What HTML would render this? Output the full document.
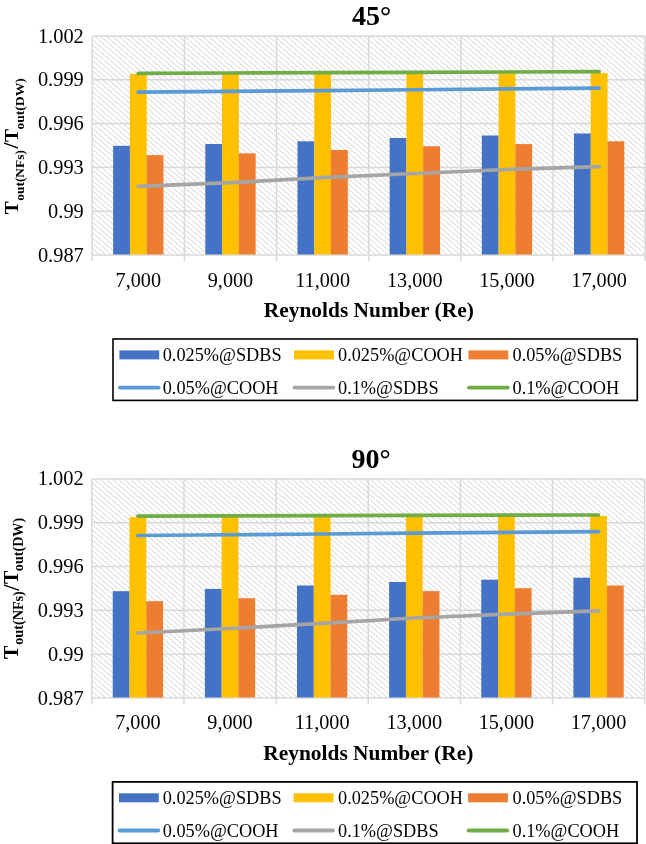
<!DOCTYPE html>
<html lang="en">
<head>
<meta charset="utf-8">
<title>Outlet temperature ratio charts</title>
<style>
html,body{margin:0;padding:0;background:#fff;}
body{width:646px;height:844px;overflow:hidden;}
svg{display:block;font-family:"Liberation Serif",serif;fill:#000;}
</style>
</head>
<body>
<svg width="646" height="844" viewBox="0 0 646 844">
<rect width="646" height="844" fill="#fff"/>
<clipPath id="cp1"><rect x="92.20" y="36.00" width="553.00" height="219.00"/></clipPath>
<g clip-path="url(#cp1)" fill="none"><path d="M-157.80 36.00l251.93 219.00M-151.80 36.00l251.93 219.00M-145.80 36.00l251.93 219.00M-139.80 36.00l251.93 219.00M-133.80 36.00l251.93 219.00M-127.80 36.00l251.93 219.00M-121.80 36.00l251.93 219.00M-115.80 36.00l251.93 219.00M-109.80 36.00l251.93 219.00M-103.80 36.00l251.93 219.00M-97.80 36.00l251.93 219.00M-91.80 36.00l251.93 219.00M-85.80 36.00l251.93 219.00M-79.80 36.00l251.93 219.00M-73.80 36.00l251.93 219.00M-67.80 36.00l251.93 219.00M-61.80 36.00l251.93 219.00M-55.80 36.00l251.93 219.00M-49.80 36.00l251.93 219.00M-43.80 36.00l251.93 219.00M-37.80 36.00l251.93 219.00M-31.80 36.00l251.93 219.00M-25.80 36.00l251.93 219.00M-19.80 36.00l251.93 219.00M-13.80 36.00l251.93 219.00M-7.80 36.00l251.93 219.00M-1.80 36.00l251.93 219.00M4.20 36.00l251.93 219.00M10.20 36.00l251.93 219.00M16.20 36.00l251.93 219.00M22.20 36.00l251.93 219.00M28.20 36.00l251.93 219.00M34.20 36.00l251.93 219.00M40.20 36.00l251.93 219.00M46.20 36.00l251.93 219.00M52.20 36.00l251.93 219.00M58.20 36.00l251.93 219.00M64.20 36.00l251.93 219.00M70.20 36.00l251.93 219.00M76.20 36.00l251.93 219.00M82.20 36.00l251.93 219.00M88.20 36.00l251.93 219.00M94.20 36.00l251.93 219.00M100.20 36.00l251.93 219.00M106.20 36.00l251.93 219.00M112.20 36.00l251.93 219.00M118.20 36.00l251.93 219.00M124.20 36.00l251.93 219.00M130.20 36.00l251.93 219.00M136.20 36.00l251.93 219.00M142.20 36.00l251.93 219.00M148.20 36.00l251.93 219.00M154.20 36.00l251.93 219.00M160.20 36.00l251.93 219.00M166.20 36.00l251.93 219.00M172.20 36.00l251.93 219.00M178.20 36.00l251.93 219.00M184.20 36.00l251.93 219.00M190.20 36.00l251.93 219.00M196.20 36.00l251.93 219.00M202.20 36.00l251.93 219.00M208.20 36.00l251.93 219.00M214.20 36.00l251.93 219.00M220.20 36.00l251.93 219.00M226.20 36.00l251.93 219.00M232.20 36.00l251.93 219.00M238.20 36.00l251.93 219.00M244.20 36.00l251.93 219.00M250.20 36.00l251.93 219.00M256.20 36.00l251.93 219.00M262.20 36.00l251.93 219.00M268.20 36.00l251.93 219.00M274.20 36.00l251.93 219.00M280.20 36.00l251.93 219.00M286.20 36.00l251.93 219.00M292.20 36.00l251.93 219.00M298.20 36.00l251.93 219.00M304.20 36.00l251.93 219.00M310.20 36.00l251.93 219.00M316.20 36.00l251.93 219.00M322.20 36.00l251.93 219.00M328.20 36.00l251.93 219.00M334.20 36.00l251.93 219.00M340.20 36.00l251.93 219.00M346.20 36.00l251.93 219.00M352.20 36.00l251.93 219.00M358.20 36.00l251.93 219.00M364.20 36.00l251.93 219.00M370.20 36.00l251.93 219.00M376.20 36.00l251.93 219.00M382.20 36.00l251.93 219.00M388.20 36.00l251.93 219.00M394.20 36.00l251.93 219.00M400.20 36.00l251.93 219.00M406.20 36.00l251.93 219.00M412.20 36.00l251.93 219.00M418.20 36.00l251.93 219.00M424.20 36.00l251.93 219.00M430.20 36.00l251.93 219.00M436.20 36.00l251.93 219.00M442.20 36.00l251.93 219.00M448.20 36.00l251.93 219.00M454.20 36.00l251.93 219.00M460.20 36.00l251.93 219.00M466.20 36.00l251.93 219.00M472.20 36.00l251.93 219.00M478.20 36.00l251.93 219.00M484.20 36.00l251.93 219.00M490.20 36.00l251.93 219.00M496.20 36.00l251.93 219.00M502.20 36.00l251.93 219.00M508.20 36.00l251.93 219.00M514.20 36.00l251.93 219.00M520.20 36.00l251.93 219.00M526.20 36.00l251.93 219.00M532.20 36.00l251.93 219.00M538.20 36.00l251.93 219.00M544.20 36.00l251.93 219.00M550.20 36.00l251.93 219.00M556.20 36.00l251.93 219.00M562.20 36.00l251.93 219.00M568.20 36.00l251.93 219.00M574.20 36.00l251.93 219.00M580.20 36.00l251.93 219.00M586.20 36.00l251.93 219.00M592.20 36.00l251.93 219.00M598.20 36.00l251.93 219.00M604.20 36.00l251.93 219.00M610.20 36.00l251.93 219.00M616.20 36.00l251.93 219.00M622.20 36.00l251.93 219.00M628.20 36.00l251.93 219.00M634.20 36.00l251.93 219.00M640.20 36.00l251.93 219.00M646.20 36.00l251.93 219.00" stroke="#E6E6E6" stroke-width="0.8"/><path d="M-157.80 36.00l251.93 219.00M-151.80 36.00l251.93 219.00M-145.80 36.00l251.93 219.00M-139.80 36.00l251.93 219.00M-133.80 36.00l251.93 219.00M-127.80 36.00l251.93 219.00M-121.80 36.00l251.93 219.00M-115.80 36.00l251.93 219.00M-109.80 36.00l251.93 219.00M-103.80 36.00l251.93 219.00M-97.80 36.00l251.93 219.00M-91.80 36.00l251.93 219.00M-85.80 36.00l251.93 219.00M-79.80 36.00l251.93 219.00M-73.80 36.00l251.93 219.00M-67.80 36.00l251.93 219.00M-61.80 36.00l251.93 219.00M-55.80 36.00l251.93 219.00M-49.80 36.00l251.93 219.00M-43.80 36.00l251.93 219.00M-37.80 36.00l251.93 219.00M-31.80 36.00l251.93 219.00M-25.80 36.00l251.93 219.00M-19.80 36.00l251.93 219.00M-13.80 36.00l251.93 219.00M-7.80 36.00l251.93 219.00M-1.80 36.00l251.93 219.00M4.20 36.00l251.93 219.00M10.20 36.00l251.93 219.00M16.20 36.00l251.93 219.00M22.20 36.00l251.93 219.00M28.20 36.00l251.93 219.00M34.20 36.00l251.93 219.00M40.20 36.00l251.93 219.00M46.20 36.00l251.93 219.00M52.20 36.00l251.93 219.00M58.20 36.00l251.93 219.00M64.20 36.00l251.93 219.00M70.20 36.00l251.93 219.00M76.20 36.00l251.93 219.00M82.20 36.00l251.93 219.00M88.20 36.00l251.93 219.00M94.20 36.00l251.93 219.00M100.20 36.00l251.93 219.00M106.20 36.00l251.93 219.00M112.20 36.00l251.93 219.00M118.20 36.00l251.93 219.00M124.20 36.00l251.93 219.00M130.20 36.00l251.93 219.00M136.20 36.00l251.93 219.00M142.20 36.00l251.93 219.00M148.20 36.00l251.93 219.00M154.20 36.00l251.93 219.00M160.20 36.00l251.93 219.00M166.20 36.00l251.93 219.00M172.20 36.00l251.93 219.00M178.20 36.00l251.93 219.00M184.20 36.00l251.93 219.00M190.20 36.00l251.93 219.00M196.20 36.00l251.93 219.00M202.20 36.00l251.93 219.00M208.20 36.00l251.93 219.00M214.20 36.00l251.93 219.00M220.20 36.00l251.93 219.00M226.20 36.00l251.93 219.00M232.20 36.00l251.93 219.00M238.20 36.00l251.93 219.00M244.20 36.00l251.93 219.00M250.20 36.00l251.93 219.00M256.20 36.00l251.93 219.00M262.20 36.00l251.93 219.00M268.20 36.00l251.93 219.00M274.20 36.00l251.93 219.00M280.20 36.00l251.93 219.00M286.20 36.00l251.93 219.00M292.20 36.00l251.93 219.00M298.20 36.00l251.93 219.00M304.20 36.00l251.93 219.00M310.20 36.00l251.93 219.00M316.20 36.00l251.93 219.00M322.20 36.00l251.93 219.00M328.20 36.00l251.93 219.00M334.20 36.00l251.93 219.00M340.20 36.00l251.93 219.00M346.20 36.00l251.93 219.00M352.20 36.00l251.93 219.00M358.20 36.00l251.93 219.00M364.20 36.00l251.93 219.00M370.20 36.00l251.93 219.00M376.20 36.00l251.93 219.00M382.20 36.00l251.93 219.00M388.20 36.00l251.93 219.00M394.20 36.00l251.93 219.00M400.20 36.00l251.93 219.00M406.20 36.00l251.93 219.00M412.20 36.00l251.93 219.00M418.20 36.00l251.93 219.00M424.20 36.00l251.93 219.00M430.20 36.00l251.93 219.00M436.20 36.00l251.93 219.00M442.20 36.00l251.93 219.00M448.20 36.00l251.93 219.00M454.20 36.00l251.93 219.00M460.20 36.00l251.93 219.00M466.20 36.00l251.93 219.00M472.20 36.00l251.93 219.00M478.20 36.00l251.93 219.00M484.20 36.00l251.93 219.00M490.20 36.00l251.93 219.00M496.20 36.00l251.93 219.00M502.20 36.00l251.93 219.00M508.20 36.00l251.93 219.00M514.20 36.00l251.93 219.00M520.20 36.00l251.93 219.00M526.20 36.00l251.93 219.00M532.20 36.00l251.93 219.00M538.20 36.00l251.93 219.00M544.20 36.00l251.93 219.00M550.20 36.00l251.93 219.00M556.20 36.00l251.93 219.00M562.20 36.00l251.93 219.00M568.20 36.00l251.93 219.00M574.20 36.00l251.93 219.00M580.20 36.00l251.93 219.00M586.20 36.00l251.93 219.00M592.20 36.00l251.93 219.00M598.20 36.00l251.93 219.00M604.20 36.00l251.93 219.00M610.20 36.00l251.93 219.00M616.20 36.00l251.93 219.00M622.20 36.00l251.93 219.00M628.20 36.00l251.93 219.00M634.20 36.00l251.93 219.00M640.20 36.00l251.93 219.00M646.20 36.00l251.93 219.00" stroke="#C2C2C2" stroke-width="0.9" stroke-dasharray="1.3 1.16"/></g>
<line x1="92.20" y1="36.00" x2="645.20" y2="36.00" stroke="#D9D9D9" stroke-width="1.5"/>
<line x1="92.20" y1="79.80" x2="645.20" y2="79.80" stroke="#D9D9D9" stroke-width="1.5"/>
<line x1="92.20" y1="123.60" x2="645.20" y2="123.60" stroke="#D9D9D9" stroke-width="1.5"/>
<line x1="92.20" y1="167.40" x2="645.20" y2="167.40" stroke="#D9D9D9" stroke-width="1.5"/>
<line x1="92.20" y1="211.20" x2="645.20" y2="211.20" stroke="#D9D9D9" stroke-width="1.5"/>
<line x1="92.20" y1="255.00" x2="645.20" y2="255.00" stroke="#D9D9D9" stroke-width="1.5"/>
<line x1="92.20" y1="36.00" x2="92.20" y2="261.30" stroke="#D9D9D9" stroke-width="1.5"/>
<line x1="184.37" y1="36.00" x2="184.37" y2="261.30" stroke="#D9D9D9" stroke-width="1.5"/>
<line x1="276.53" y1="36.00" x2="276.53" y2="261.30" stroke="#D9D9D9" stroke-width="1.5"/>
<line x1="368.70" y1="36.00" x2="368.70" y2="261.30" stroke="#D9D9D9" stroke-width="1.5"/>
<line x1="460.87" y1="36.00" x2="460.87" y2="261.30" stroke="#D9D9D9" stroke-width="1.5"/>
<line x1="553.03" y1="36.00" x2="553.03" y2="261.30" stroke="#D9D9D9" stroke-width="1.5"/>
<line x1="645.20" y1="36.00" x2="645.20" y2="261.30" stroke="#D9D9D9" stroke-width="1.5"/>
<rect x="113.15" y="145.80" width="16.81" height="108.70" fill="#4472C4"/>
<rect x="129.90" y="73.90" width="16.81" height="180.60" fill="#FFC000"/>
<rect x="146.66" y="155.10" width="16.81" height="99.40" fill="#ED7D31"/>
<rect x="205.31" y="144.00" width="16.81" height="110.50" fill="#4472C4"/>
<rect x="222.07" y="73.74" width="16.81" height="180.76" fill="#FFC000"/>
<rect x="238.83" y="153.30" width="16.81" height="101.20" fill="#ED7D31"/>
<rect x="297.48" y="141.30" width="16.81" height="113.20" fill="#4472C4"/>
<rect x="314.24" y="73.58" width="16.81" height="180.92" fill="#FFC000"/>
<rect x="331.00" y="150.00" width="16.81" height="104.50" fill="#ED7D31"/>
<rect x="389.65" y="138.00" width="16.81" height="116.50" fill="#4472C4"/>
<rect x="406.40" y="73.42" width="16.81" height="181.08" fill="#FFC000"/>
<rect x="423.16" y="146.30" width="16.81" height="108.20" fill="#ED7D31"/>
<rect x="481.81" y="135.50" width="16.81" height="119.00" fill="#4472C4"/>
<rect x="498.57" y="73.26" width="16.81" height="181.24" fill="#FFC000"/>
<rect x="515.33" y="144.10" width="16.81" height="110.40" fill="#ED7D31"/>
<rect x="573.98" y="133.50" width="16.81" height="121.00" fill="#4472C4"/>
<rect x="590.74" y="73.10" width="16.81" height="181.40" fill="#FFC000"/>
<rect x="607.50" y="141.30" width="16.81" height="113.20" fill="#ED7D31"/>
<polyline points="138.28,92.20 230.45,91.38 322.62,90.56 414.78,89.74 506.95,88.92 599.12,88.10" fill="none" stroke="#5B9BD5" stroke-width="3.7" stroke-linecap="round" stroke-linejoin="round"/>
<polyline points="138.28,186.30 230.45,182.70 322.62,177.70 414.78,173.50 506.95,169.50 599.12,166.70" fill="none" stroke="#A5A5A5" stroke-width="3.7" stroke-linecap="round" stroke-linejoin="round"/>
<polyline points="138.28,73.30 230.45,72.98 322.62,72.66 414.78,72.34 506.95,72.02 599.12,71.70" fill="none" stroke="#70AD47" stroke-width="3.7" stroke-linecap="round" stroke-linejoin="round"/>
<text x="371.70" y="24.80" text-anchor="middle" font-size="28" font-weight="bold">45°</text>
<text x="83.80" y="42.60" text-anchor="end" font-size="20.4">1.002</text>
<text x="83.80" y="86.40" text-anchor="end" font-size="20.4">0.999</text>
<text x="83.80" y="130.20" text-anchor="end" font-size="20.4">0.996</text>
<text x="83.80" y="174.00" text-anchor="end" font-size="20.4">0.993</text>
<text x="83.80" y="217.80" text-anchor="end" font-size="20.4">0.99</text>
<text x="83.80" y="261.60" text-anchor="end" font-size="20.4">0.987</text>
<text x="138.28" y="286.50" text-anchor="middle" font-size="20.2">7,000</text>
<text x="230.45" y="286.50" text-anchor="middle" font-size="20.2">9,000</text>
<text x="322.62" y="286.50" text-anchor="middle" font-size="20.2">11,000</text>
<text x="414.78" y="286.50" text-anchor="middle" font-size="20.2">13,000</text>
<text x="506.95" y="286.50" text-anchor="middle" font-size="20.2">15,000</text>
<text x="599.12" y="286.50" text-anchor="middle" font-size="20.2">17,000</text>
<text x="368.80" y="316.50" text-anchor="middle" font-size="21.4" font-weight="bold">Reynolds Number (Re)</text>
<g transform="translate(18.0,214.30) rotate(-90) scale(1.0)" font-weight="bold"><text x="0" y="0" font-size="19.4">T</text><text x="13.6" y="5.5" font-size="13.4" textLength="50.6" lengthAdjust="spacingAndGlyphs">out(NFs)</text><text x="65.9" y="0.4" font-size="21.5">/</text><text x="72.2" y="0" font-size="19.4">T</text><text x="84.7" y="5.5" font-size="13.4" textLength="51.5" lengthAdjust="spacingAndGlyphs">out(DW)</text></g>
<rect x="113.0" y="339.00" width="524.30" height="61.40" fill="#fff" stroke="#000" stroke-width="1.6"/>
<rect x="119.40" y="350.40" width="39.8" height="9" fill="#4472C4"/>
<text x="162.70" y="360.60" font-size="18.3">0.025%@SDBS</text>
<rect x="294.10" y="350.40" width="39.8" height="9" fill="#FFC000"/>
<text x="338.00" y="360.60" font-size="18.3">0.025%@COOH</text>
<rect x="468.50" y="350.40" width="39.8" height="9" fill="#ED7D31"/>
<text x="512.50" y="360.60" font-size="18.3">0.05%@SDBS</text>
<line x1="119.90" y1="387.60" x2="158.60" y2="387.60" stroke="#5B9BD5" stroke-width="3.8" stroke-linecap="round"/>
<text x="162.70" y="393.60" font-size="18.3">0.05%@COOH</text>
<line x1="294.60" y1="387.60" x2="333.30" y2="387.60" stroke="#A5A5A5" stroke-width="3.8" stroke-linecap="round"/>
<text x="338.00" y="393.60" font-size="18.3">0.1%@SDBS</text>
<line x1="469.00" y1="387.60" x2="507.70" y2="387.60" stroke="#70AD47" stroke-width="3.8" stroke-linecap="round"/>
<text x="512.50" y="393.60" font-size="18.3">0.1%@COOH</text>
<clipPath id="cp2"><rect x="91.80" y="478.90" width="552.80" height="219.10"/></clipPath>
<g clip-path="url(#cp2)" fill="none"><path d="M-164.20 478.90l252.05 219.10M-158.20 478.90l252.05 219.10M-152.20 478.90l252.05 219.10M-146.20 478.90l252.05 219.10M-140.20 478.90l252.05 219.10M-134.20 478.90l252.05 219.10M-128.20 478.90l252.05 219.10M-122.20 478.90l252.05 219.10M-116.20 478.90l252.05 219.10M-110.20 478.90l252.05 219.10M-104.20 478.90l252.05 219.10M-98.20 478.90l252.05 219.10M-92.20 478.90l252.05 219.10M-86.20 478.90l252.05 219.10M-80.20 478.90l252.05 219.10M-74.20 478.90l252.05 219.10M-68.20 478.90l252.05 219.10M-62.20 478.90l252.05 219.10M-56.20 478.90l252.05 219.10M-50.20 478.90l252.05 219.10M-44.20 478.90l252.05 219.10M-38.20 478.90l252.05 219.10M-32.20 478.90l252.05 219.10M-26.20 478.90l252.05 219.10M-20.20 478.90l252.05 219.10M-14.20 478.90l252.05 219.10M-8.20 478.90l252.05 219.10M-2.20 478.90l252.05 219.10M3.80 478.90l252.05 219.10M9.80 478.90l252.05 219.10M15.80 478.90l252.05 219.10M21.80 478.90l252.05 219.10M27.80 478.90l252.05 219.10M33.80 478.90l252.05 219.10M39.80 478.90l252.05 219.10M45.80 478.90l252.05 219.10M51.80 478.90l252.05 219.10M57.80 478.90l252.05 219.10M63.80 478.90l252.05 219.10M69.80 478.90l252.05 219.10M75.80 478.90l252.05 219.10M81.80 478.90l252.05 219.10M87.80 478.90l252.05 219.10M93.80 478.90l252.05 219.10M99.80 478.90l252.05 219.10M105.80 478.90l252.05 219.10M111.80 478.90l252.05 219.10M117.80 478.90l252.05 219.10M123.80 478.90l252.05 219.10M129.80 478.90l252.05 219.10M135.80 478.90l252.05 219.10M141.80 478.90l252.05 219.10M147.80 478.90l252.05 219.10M153.80 478.90l252.05 219.10M159.80 478.90l252.05 219.10M165.80 478.90l252.05 219.10M171.80 478.90l252.05 219.10M177.80 478.90l252.05 219.10M183.80 478.90l252.05 219.10M189.80 478.90l252.05 219.10M195.80 478.90l252.05 219.10M201.80 478.90l252.05 219.10M207.80 478.90l252.05 219.10M213.80 478.90l252.05 219.10M219.80 478.90l252.05 219.10M225.80 478.90l252.05 219.10M231.80 478.90l252.05 219.10M237.80 478.90l252.05 219.10M243.80 478.90l252.05 219.10M249.80 478.90l252.05 219.10M255.80 478.90l252.05 219.10M261.80 478.90l252.05 219.10M267.80 478.90l252.05 219.10M273.80 478.90l252.05 219.10M279.80 478.90l252.05 219.10M285.80 478.90l252.05 219.10M291.80 478.90l252.05 219.10M297.80 478.90l252.05 219.10M303.80 478.90l252.05 219.10M309.80 478.90l252.05 219.10M315.80 478.90l252.05 219.10M321.80 478.90l252.05 219.10M327.80 478.90l252.05 219.10M333.80 478.90l252.05 219.10M339.80 478.90l252.05 219.10M345.80 478.90l252.05 219.10M351.80 478.90l252.05 219.10M357.80 478.90l252.05 219.10M363.80 478.90l252.05 219.10M369.80 478.90l252.05 219.10M375.80 478.90l252.05 219.10M381.80 478.90l252.05 219.10M387.80 478.90l252.05 219.10M393.80 478.90l252.05 219.10M399.80 478.90l252.05 219.10M405.80 478.90l252.05 219.10M411.80 478.90l252.05 219.10M417.80 478.90l252.05 219.10M423.80 478.90l252.05 219.10M429.80 478.90l252.05 219.10M435.80 478.90l252.05 219.10M441.80 478.90l252.05 219.10M447.80 478.90l252.05 219.10M453.80 478.90l252.05 219.10M459.80 478.90l252.05 219.10M465.80 478.90l252.05 219.10M471.80 478.90l252.05 219.10M477.80 478.90l252.05 219.10M483.80 478.90l252.05 219.10M489.80 478.90l252.05 219.10M495.80 478.90l252.05 219.10M501.80 478.90l252.05 219.10M507.80 478.90l252.05 219.10M513.80 478.90l252.05 219.10M519.80 478.90l252.05 219.10M525.80 478.90l252.05 219.10M531.80 478.90l252.05 219.10M537.80 478.90l252.05 219.10M543.80 478.90l252.05 219.10M549.80 478.90l252.05 219.10M555.80 478.90l252.05 219.10M561.80 478.90l252.05 219.10M567.80 478.90l252.05 219.10M573.80 478.90l252.05 219.10M579.80 478.90l252.05 219.10M585.80 478.90l252.05 219.10M591.80 478.90l252.05 219.10M597.80 478.90l252.05 219.10M603.80 478.90l252.05 219.10M609.80 478.90l252.05 219.10M615.80 478.90l252.05 219.10M621.80 478.90l252.05 219.10M627.80 478.90l252.05 219.10M633.80 478.90l252.05 219.10M639.80 478.90l252.05 219.10M645.80 478.90l252.05 219.10" stroke="#E6E6E6" stroke-width="0.8"/><path d="M-164.20 478.90l252.05 219.10M-158.20 478.90l252.05 219.10M-152.20 478.90l252.05 219.10M-146.20 478.90l252.05 219.10M-140.20 478.90l252.05 219.10M-134.20 478.90l252.05 219.10M-128.20 478.90l252.05 219.10M-122.20 478.90l252.05 219.10M-116.20 478.90l252.05 219.10M-110.20 478.90l252.05 219.10M-104.20 478.90l252.05 219.10M-98.20 478.90l252.05 219.10M-92.20 478.90l252.05 219.10M-86.20 478.90l252.05 219.10M-80.20 478.90l252.05 219.10M-74.20 478.90l252.05 219.10M-68.20 478.90l252.05 219.10M-62.20 478.90l252.05 219.10M-56.20 478.90l252.05 219.10M-50.20 478.90l252.05 219.10M-44.20 478.90l252.05 219.10M-38.20 478.90l252.05 219.10M-32.20 478.90l252.05 219.10M-26.20 478.90l252.05 219.10M-20.20 478.90l252.05 219.10M-14.20 478.90l252.05 219.10M-8.20 478.90l252.05 219.10M-2.20 478.90l252.05 219.10M3.80 478.90l252.05 219.10M9.80 478.90l252.05 219.10M15.80 478.90l252.05 219.10M21.80 478.90l252.05 219.10M27.80 478.90l252.05 219.10M33.80 478.90l252.05 219.10M39.80 478.90l252.05 219.10M45.80 478.90l252.05 219.10M51.80 478.90l252.05 219.10M57.80 478.90l252.05 219.10M63.80 478.90l252.05 219.10M69.80 478.90l252.05 219.10M75.80 478.90l252.05 219.10M81.80 478.90l252.05 219.10M87.80 478.90l252.05 219.10M93.80 478.90l252.05 219.10M99.80 478.90l252.05 219.10M105.80 478.90l252.05 219.10M111.80 478.90l252.05 219.10M117.80 478.90l252.05 219.10M123.80 478.90l252.05 219.10M129.80 478.90l252.05 219.10M135.80 478.90l252.05 219.10M141.80 478.90l252.05 219.10M147.80 478.90l252.05 219.10M153.80 478.90l252.05 219.10M159.80 478.90l252.05 219.10M165.80 478.90l252.05 219.10M171.80 478.90l252.05 219.10M177.80 478.90l252.05 219.10M183.80 478.90l252.05 219.10M189.80 478.90l252.05 219.10M195.80 478.90l252.05 219.10M201.80 478.90l252.05 219.10M207.80 478.90l252.05 219.10M213.80 478.90l252.05 219.10M219.80 478.90l252.05 219.10M225.80 478.90l252.05 219.10M231.80 478.90l252.05 219.10M237.80 478.90l252.05 219.10M243.80 478.90l252.05 219.10M249.80 478.90l252.05 219.10M255.80 478.90l252.05 219.10M261.80 478.90l252.05 219.10M267.80 478.90l252.05 219.10M273.80 478.90l252.05 219.10M279.80 478.90l252.05 219.10M285.80 478.90l252.05 219.10M291.80 478.90l252.05 219.10M297.80 478.90l252.05 219.10M303.80 478.90l252.05 219.10M309.80 478.90l252.05 219.10M315.80 478.90l252.05 219.10M321.80 478.90l252.05 219.10M327.80 478.90l252.05 219.10M333.80 478.90l252.05 219.10M339.80 478.90l252.05 219.10M345.80 478.90l252.05 219.10M351.80 478.90l252.05 219.10M357.80 478.90l252.05 219.10M363.80 478.90l252.05 219.10M369.80 478.90l252.05 219.10M375.80 478.90l252.05 219.10M381.80 478.90l252.05 219.10M387.80 478.90l252.05 219.10M393.80 478.90l252.05 219.10M399.80 478.90l252.05 219.10M405.80 478.90l252.05 219.10M411.80 478.90l252.05 219.10M417.80 478.90l252.05 219.10M423.80 478.90l252.05 219.10M429.80 478.90l252.05 219.10M435.80 478.90l252.05 219.10M441.80 478.90l252.05 219.10M447.80 478.90l252.05 219.10M453.80 478.90l252.05 219.10M459.80 478.90l252.05 219.10M465.80 478.90l252.05 219.10M471.80 478.90l252.05 219.10M477.80 478.90l252.05 219.10M483.80 478.90l252.05 219.10M489.80 478.90l252.05 219.10M495.80 478.90l252.05 219.10M501.80 478.90l252.05 219.10M507.80 478.90l252.05 219.10M513.80 478.90l252.05 219.10M519.80 478.90l252.05 219.10M525.80 478.90l252.05 219.10M531.80 478.90l252.05 219.10M537.80 478.90l252.05 219.10M543.80 478.90l252.05 219.10M549.80 478.90l252.05 219.10M555.80 478.90l252.05 219.10M561.80 478.90l252.05 219.10M567.80 478.90l252.05 219.10M573.80 478.90l252.05 219.10M579.80 478.90l252.05 219.10M585.80 478.90l252.05 219.10M591.80 478.90l252.05 219.10M597.80 478.90l252.05 219.10M603.80 478.90l252.05 219.10M609.80 478.90l252.05 219.10M615.80 478.90l252.05 219.10M621.80 478.90l252.05 219.10M627.80 478.90l252.05 219.10M633.80 478.90l252.05 219.10M639.80 478.90l252.05 219.10M645.80 478.90l252.05 219.10" stroke="#C2C2C2" stroke-width="0.9" stroke-dasharray="1.3 1.16"/></g>
<line x1="91.80" y1="478.90" x2="644.60" y2="478.90" stroke="#D9D9D9" stroke-width="1.5"/>
<line x1="91.80" y1="522.72" x2="644.60" y2="522.72" stroke="#D9D9D9" stroke-width="1.5"/>
<line x1="91.80" y1="566.54" x2="644.60" y2="566.54" stroke="#D9D9D9" stroke-width="1.5"/>
<line x1="91.80" y1="610.36" x2="644.60" y2="610.36" stroke="#D9D9D9" stroke-width="1.5"/>
<line x1="91.80" y1="654.18" x2="644.60" y2="654.18" stroke="#D9D9D9" stroke-width="1.5"/>
<line x1="91.80" y1="698.00" x2="644.60" y2="698.00" stroke="#D9D9D9" stroke-width="1.5"/>
<line x1="91.80" y1="478.90" x2="91.80" y2="704.30" stroke="#D9D9D9" stroke-width="1.5"/>
<line x1="183.93" y1="478.90" x2="183.93" y2="704.30" stroke="#D9D9D9" stroke-width="1.5"/>
<line x1="276.07" y1="478.90" x2="276.07" y2="704.30" stroke="#D9D9D9" stroke-width="1.5"/>
<line x1="368.20" y1="478.90" x2="368.20" y2="704.30" stroke="#D9D9D9" stroke-width="1.5"/>
<line x1="460.33" y1="478.90" x2="460.33" y2="704.30" stroke="#D9D9D9" stroke-width="1.5"/>
<line x1="552.47" y1="478.90" x2="552.47" y2="704.30" stroke="#D9D9D9" stroke-width="1.5"/>
<line x1="644.60" y1="478.90" x2="644.60" y2="704.30" stroke="#D9D9D9" stroke-width="1.5"/>
<rect x="112.74" y="591.20" width="16.80" height="106.30" fill="#4472C4"/>
<rect x="129.49" y="517.10" width="16.80" height="180.40" fill="#FFC000"/>
<rect x="146.24" y="601.20" width="16.80" height="96.30" fill="#ED7D31"/>
<rect x="204.87" y="588.90" width="16.80" height="108.60" fill="#4472C4"/>
<rect x="221.62" y="516.88" width="16.80" height="180.62" fill="#FFC000"/>
<rect x="238.38" y="598.20" width="16.80" height="99.30" fill="#ED7D31"/>
<rect x="297.01" y="585.50" width="16.80" height="112.00" fill="#4472C4"/>
<rect x="313.76" y="516.66" width="16.80" height="180.84" fill="#FFC000"/>
<rect x="330.51" y="594.80" width="16.80" height="102.70" fill="#ED7D31"/>
<rect x="389.14" y="582.00" width="16.80" height="115.50" fill="#4472C4"/>
<rect x="405.89" y="516.44" width="16.80" height="181.06" fill="#FFC000"/>
<rect x="422.64" y="591.10" width="16.80" height="106.40" fill="#ED7D31"/>
<rect x="481.27" y="579.70" width="16.80" height="117.80" fill="#4472C4"/>
<rect x="498.02" y="516.22" width="16.80" height="181.28" fill="#FFC000"/>
<rect x="514.78" y="588.20" width="16.80" height="109.30" fill="#ED7D31"/>
<rect x="573.41" y="577.70" width="16.80" height="119.80" fill="#4472C4"/>
<rect x="590.16" y="516.00" width="16.80" height="181.50" fill="#FFC000"/>
<rect x="606.91" y="585.50" width="16.80" height="112.00" fill="#ED7D31"/>
<polyline points="137.87,535.50 230.00,534.74 322.13,533.98 414.27,533.22 506.40,532.46 598.53,531.70" fill="none" stroke="#5B9BD5" stroke-width="3.7" stroke-linecap="round" stroke-linejoin="round"/>
<polyline points="137.87,633.00 230.00,628.50 322.13,623.30 414.27,618.00 506.40,614.20 598.53,610.90" fill="none" stroke="#A5A5A5" stroke-width="3.7" stroke-linecap="round" stroke-linejoin="round"/>
<polyline points="137.87,516.10 230.00,515.88 322.13,515.66 414.27,515.44 506.40,515.22 598.53,515.00" fill="none" stroke="#70AD47" stroke-width="3.7" stroke-linecap="round" stroke-linejoin="round"/>
<text x="371.20" y="467.70" text-anchor="middle" font-size="28" font-weight="bold">90°</text>
<text x="83.60" y="484.70" text-anchor="end" font-size="20.4">1.002</text>
<text x="83.60" y="528.72" text-anchor="end" font-size="20.4">0.999</text>
<text x="83.60" y="572.74" text-anchor="end" font-size="20.4">0.996</text>
<text x="83.60" y="616.76" text-anchor="end" font-size="20.4">0.993</text>
<text x="83.60" y="660.78" text-anchor="end" font-size="20.4">0.99</text>
<text x="83.60" y="704.80" text-anchor="end" font-size="20.4">0.987</text>
<text x="137.87" y="729.40" text-anchor="middle" font-size="20.2">7,000</text>
<text x="230.00" y="729.40" text-anchor="middle" font-size="20.2">9,000</text>
<text x="322.13" y="729.40" text-anchor="middle" font-size="20.2">11,000</text>
<text x="414.27" y="729.40" text-anchor="middle" font-size="20.2">13,000</text>
<text x="506.40" y="729.40" text-anchor="middle" font-size="20.2">15,000</text>
<text x="598.53" y="729.40" text-anchor="middle" font-size="20.2">17,000</text>
<text x="368.30" y="759.80" text-anchor="middle" font-size="21.4" font-weight="bold">Reynolds Number (Re)</text>
<g transform="translate(18.3,658.90) rotate(-90) scale(1.036)" font-weight="bold"><text x="0" y="0" font-size="19.4">T</text><text x="13.6" y="4.5" font-size="13.4" textLength="51.8" lengthAdjust="spacingAndGlyphs">out(NFs)</text><text x="65.9" y="0.4" font-size="21.5">/</text><text x="72.2" y="0" font-size="19.4">T</text><text x="84.7" y="4.5" font-size="13.4" textLength="51.5" lengthAdjust="spacingAndGlyphs">out(DW)</text></g>
<rect x="112.6" y="781.90" width="524.42" height="61.40" fill="#fff" stroke="#000" stroke-width="1.8"/>
<rect x="119.00" y="793.30" width="39.8" height="9" fill="#4472C4"/>
<text x="162.70" y="803.50" font-size="18.3">0.025%@SDBS</text>
<rect x="293.70" y="793.30" width="39.8" height="9" fill="#FFC000"/>
<text x="338.00" y="803.50" font-size="18.3">0.025%@COOH</text>
<rect x="468.10" y="793.30" width="39.8" height="9" fill="#ED7D31"/>
<text x="512.50" y="803.50" font-size="18.3">0.05%@SDBS</text>
<line x1="119.50" y1="830.50" x2="158.20" y2="830.50" stroke="#5B9BD5" stroke-width="3.8" stroke-linecap="round"/>
<text x="162.70" y="836.50" font-size="18.3">0.05%@COOH</text>
<line x1="294.20" y1="830.50" x2="332.90" y2="830.50" stroke="#A5A5A5" stroke-width="3.8" stroke-linecap="round"/>
<text x="338.00" y="836.50" font-size="18.3">0.1%@SDBS</text>
<line x1="468.60" y1="830.50" x2="507.30" y2="830.50" stroke="#70AD47" stroke-width="3.8" stroke-linecap="round"/>
<text x="512.50" y="836.50" font-size="18.3">0.1%@COOH</text>
</svg>
</body>
</html>
